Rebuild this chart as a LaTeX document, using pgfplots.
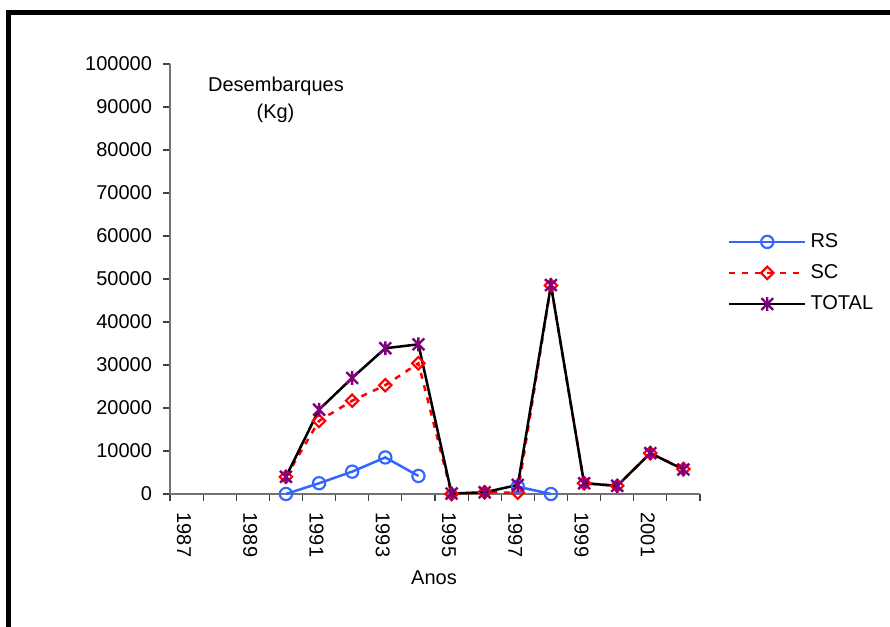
\documentclass[border=0pt]{standalone}
\usepackage{pgfplots}
\pgfplotsset{compat=1.18}
\usepackage{fontspec}
\setmainfont{Liberation Sans}
\definecolor{rsblue}{RGB}{51,102,255}
\definecolor{totpurple}{RGB}{128,0,128}
\pgfdeclareplotmark{xstar}{%
 \pgfpathmoveto{\pgfqpoint{0pt}{-\pgfplotmarksize}}\pgfpathlineto{\pgfqpoint{0pt}{\pgfplotmarksize}}%
 \pgfpathmoveto{\pgfqpoint{-.85\pgfplotmarksize}{-.85\pgfplotmarksize}}\pgfpathlineto{\pgfqpoint{.85\pgfplotmarksize}{.85\pgfplotmarksize}}%
 \pgfpathmoveto{\pgfqpoint{-.85\pgfplotmarksize}{.85\pgfplotmarksize}}\pgfpathlineto{\pgfqpoint{.85\pgfplotmarksize}{-.85\pgfplotmarksize}}%
 \pgfusepathqstroke}
\begin{document}
\begin{tikzpicture}
\useasboundingbox (0,0) rectangle (667.5pt,470.25pt);
\begin{scope}
\clip (0,0) rectangle (667.5pt,470.25pt);
\draw[line width=3.75pt] (6.375pt,-10pt) -- (6.375pt,460.875pt) -- (700pt,460.875pt);
\end{scope}
\begin{axis}[
 at={(127.5pt,99.75pt)}, anchor=south west, scale only axis,
 width=397.5pt, height=322.5pt,
 xmin=1986.5, xmax=2002.5, ymin=0, ymax=100000,
 axis lines=left, axis line style={-, draw=black!55, line width=0.9pt},
 xtick={1987,1989,...,2001},
 minor xtick={1986.5,1987.5,...,2002.5},
 ytick={0,10000,...,100000},
 tick align=outside,
 major tick length=5pt, minor tick length=5pt,
 x tick style={draw=none},
 minor x tick style={draw=black!75, line width=0.8pt},
 y tick style={draw=black!75, line width=0.8pt},
 tick label style={font=\fontsize{15}{18}\selectfont},
 /pgf/number format/assume math mode=true,
 /pgf/number format/1000 sep={},
 /pgf/number format/fixed,
 scaled y ticks=false,
 xticklabel style={rotate=-90, anchor=west, xshift=5.5pt, yshift=-2pt},
 yticklabel style={xshift=-5pt},
 unbounded coords=jump,
 clip=false,
 legend style={at={(1.0523,0.514)}, anchor=west, draw=none, fill=none,
   inner sep=0pt, font=\fontsize{15}{18}\selectfont, row sep=9.3pt,
   nodes={inner sep=0pt, text height=11pt, text depth=3pt}},
 legend cell align=left,
 legend image code/.code={\draw[mark repeat=2,mark phase=2,#1] plot coordinates {(0pt,0pt) (28.5pt,0pt) (57pt,0pt)};},
 /tikz/every odd column/.append style={column sep=3pt},
]
\addplot[rsblue, line width=1.9pt, mark=o, mark size=4.6pt, mark options={fill=white, line width=1.6pt}]
 coordinates {(1990,0) (1991,2500) (1992,5200) (1993,8500) (1994,4200) (1995,nan) (1996,nan) (1997,1700) (1998,0)};
\addlegendentry{RS}
\addplot[red, line width=1.9pt, dash pattern=on 4.5pt off 5pt, mark=square, mark size=3.3pt, mark options={solid, rotate=45, fill=white, line width=1.6pt}]
 coordinates {(1990,4000) (1991,17000) (1992,21700) (1993,25300) (1994,30400) (1995,0) (1996,400) (1997,300) (1998,48500) (1999,2500) (2000,1900) (2001,9500) (2002,5800)};
\addlegendentry{SC}
\addplot[black, line width=1.9pt, mark=xstar, mark size=5.2pt, mark options={draw=totpurple, line width=1.8pt}]
 coordinates {(1990,4000) (1991,19600) (1992,27000) (1993,33900) (1994,34800) (1995,100) (1996,400) (1997,2100) (1998,48600) (1999,2500) (2000,1900) (2001,9500) (2002,5700)};
\addlegendentry{TOTAL}
\end{axis}
\begin{scope}[x=0.75pt,y=0.75pt]
\node[font=\fontsize{15}{18}\selectfont] at (276,541) {Desembarques};
\node[font=\fontsize{15}{18}\selectfont] at (275.5,514) {(Kg)};
\node[font=\fontsize{15}{18}\selectfont] at (434,49) {Anos};
\end{scope}
\end{tikzpicture}
\end{document}
